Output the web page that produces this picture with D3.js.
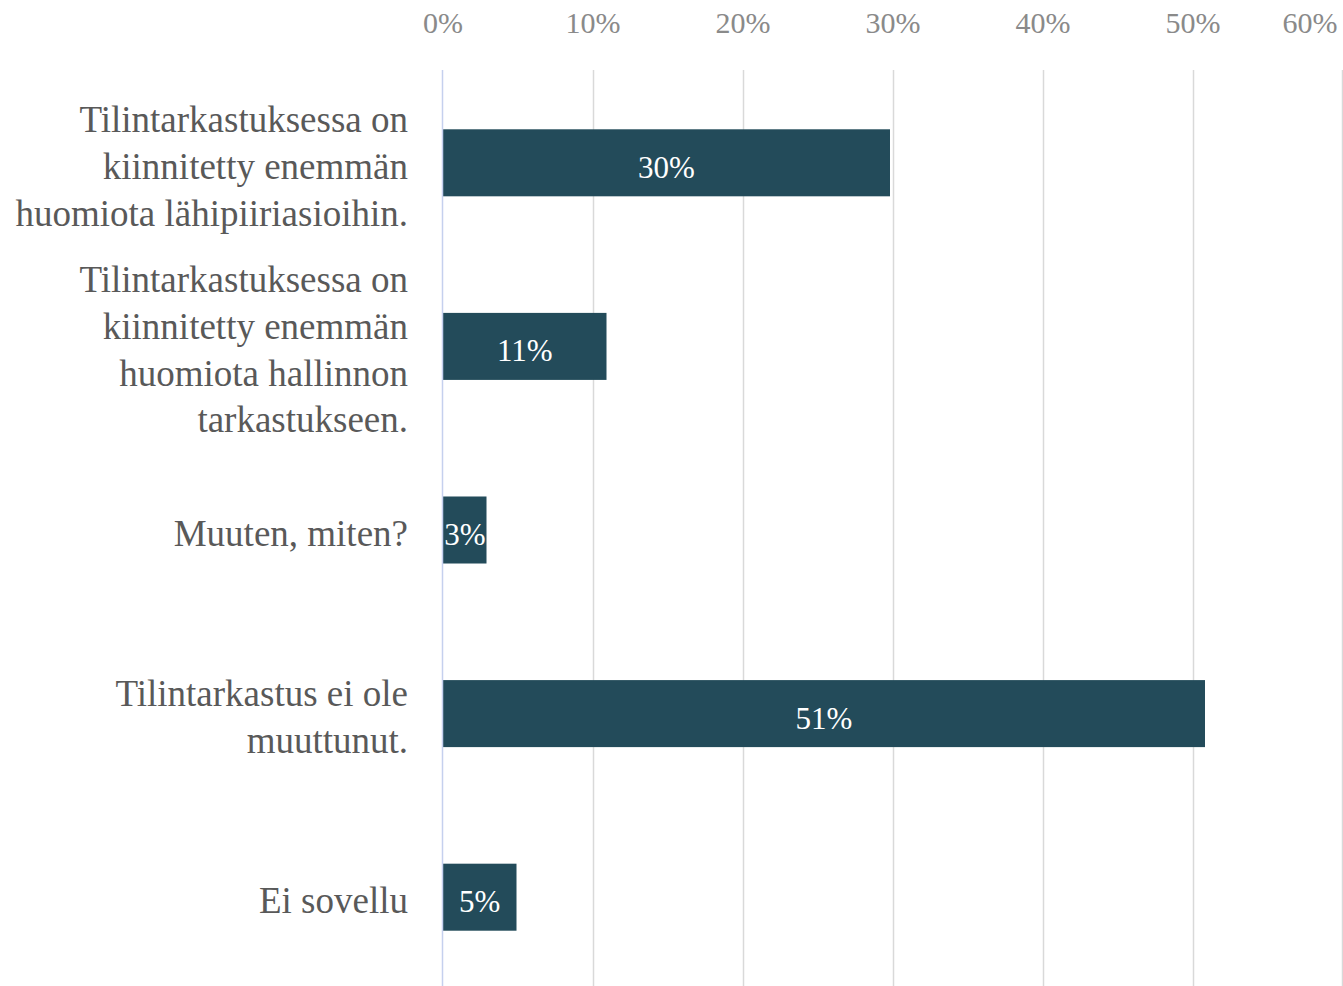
<!DOCTYPE html>
<html><head><meta charset="utf-8">
<script src="https://cdn.jsdelivr.net/npm/d3@7"></script>
<style>html,body{margin:0;padding:0;background:#fff;overflow:hidden}</style>
</head><body>
<svg id="chart" width="1343" height="986"></svg>
<script>
const categories = [
  ["Tilintarkastuksessa on", "kiinnitetty enemmän", "huomiota lähipiiriasioihin."],
  ["Tilintarkastuksessa on", "kiinnitetty enemmän", "huomiota hallinnon", "tarkastukseen."],
  ["Muuten, miten?"],
  ["Tilintarkastus ei ole", "muuttunut."],
  ["Ei sovellu"]
];
const values = [0.298, 0.109, 0.029, 0.508, 0.049];
const valueLabels = ["30%", "11%", "3%", "51%", "5%"];
const ticks = [0, 0.1, 0.2, 0.3, 0.4, 0.5, 0.6];

const svg = d3.select("#chart");
const W = 1343, H = 986;
const x = d3.scaleLinear().domain([0, 0.6]).range([443, 1343]);
const ids = categories.map((c, i) => i);
const y = d3.scaleBand().domain(ids).range([71, 989]).paddingInner(0.635).paddingOuter(0.3175);

// gridlines
svg.append("g").selectAll("line").data(ticks.slice(1)).join("line")
  .attr("x1", d => Math.min(x(d), W - 1) + 0.5).attr("x2", d => Math.min(x(d), W - 1) + 0.5)
  .attr("y1", 70).attr("y2", H)
  .attr("stroke", "#d9d9d9").attr("stroke-width", 1.5);

// tick labels
svg.append("g").selectAll("text").data(ticks).join("text")
  .attr("x", d => Math.min(x(d), W - 33)).attr("y", 33)
  .attr("text-anchor", "middle")
  .attr("font-family", "'Liberation Serif', 'Times New Roman', serif")
  .attr("font-size", 30).attr("fill", "#8a8a8a")
  .text(d3.format(".0%"));

// bars
const bars = svg.append("g");
bars.selectAll("rect").data(values).join("rect")
  .attr("x", x(0)).attr("y", (d, i) => y(i))
  .attr("width", d => x(d) - x(0)).attr("height", y.bandwidth())
  .attr("fill", "#234b5a");

// clip paths for labels
const defs = svg.append("defs");
values.forEach((d, i) => {
  defs.append("clipPath").attr("id", "clip" + i).append("rect")
    .attr("x", x(0)).attr("y", y(i)).attr("width", x(d) - x(0)).attr("height", y.bandwidth());
});

// zero axis line
svg.append("line").attr("x1", x(0) - 0.5).attr("x2", x(0) - 0.5).attr("y1", 70).attr("y2", H)
  .attr("stroke", "#c5d0ee").attr("stroke-width", 1.5);

// value labels
svg.append("g").selectAll("text").data(values).join("text")
  .attr("clip-path", (d, i) => `url(#clip${i})`)
  .attr("x", d => Math.max((x(0) + x(d)) / 2, x(0) + 22))
  .attr("y", (d, i) => y(i) + y.bandwidth() / 2 + 15)
  .attr("text-anchor", "middle")
  .attr("font-family", "'Liberation Serif', 'Times New Roman', serif")
  .attr("font-size", 31).attr("fill", "#ffffff")
  .text((d, i) => valueLabels[i]);

// category labels
const lh = 46.7;
const cat = svg.append("g").selectAll("text").data(categories).join("text")
  .attr("text-anchor", "end")
  .attr("font-family", "'Liberation Serif', 'Times New Roman', serif")
  .attr("font-size", 37).attr("fill", "#595959");
cat.each(function(lines, i) {
  const cy = y(i) + y.bandwidth() / 2 + 4;
  const start = cy - (lines.length - 1) * lh / 2 + 12;
  d3.select(this).selectAll("tspan").data(lines).join("tspan")
    .attr("x", 408).attr("y", (l, j) => start + j * lh).text(l => l);
});
</script>
</body></html>
